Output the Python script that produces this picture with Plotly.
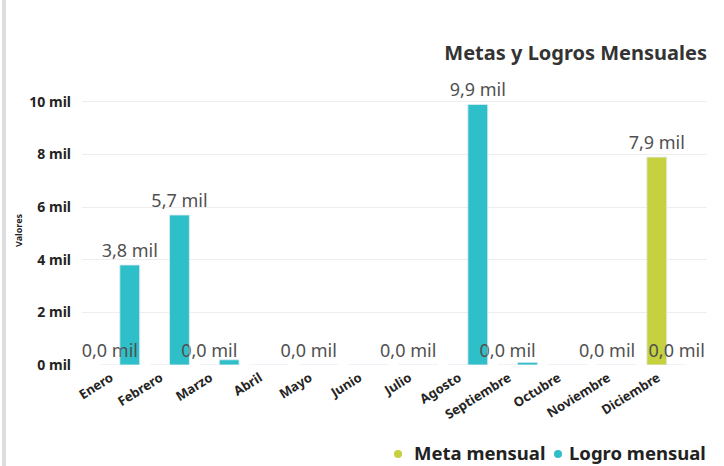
import plotly.graph_objects as go

meses = ["Enero", "Febrero", "Marzo", "Abril", "Mayo", "Junio", "Julio",
         "Agosto", "Septiembre", "Octubre", "Noviembre", "Diciembre"]
# valores en miles
meta_mensual = [0, 0, 0, 0, 0, 0, 0, 0, 0, 0, 0, 7.9]
logro_mensual = [3.8, 5.7, 0.2, 0, 0, 0, 0, 9.9, 0.1, 0, 0, 0]
# Power BI oculta las etiquetas que se solapan; éstas son las que sí se ven
meta_con_etiqueta = ["Enero", "Marzo", "Mayo", "Julio", "Septiembre",
                     "Noviembre", "Diciembre"]
logro_con_etiqueta = ["Enero", "Febrero", "Agosto", "Diciembre"]

VERDE = "#c5d13f"
TURQUESA = "#2fbfc9"
FONT = "Noto Sans"

# pixeles del área de trazado medidos en la referencia
W, H = 724, 466
X0, X1 = 82, 707
Y0, Y1 = 86, 365


def _etiquetas(valores, visibles):
    return [f"{v:.1f} mil".replace(".", ",") if m in visibles else ""
            for m, v in zip(meses, valores)]


def _px_y(y):
    return (Y1 - y) / (Y1 - Y0)


def _px_x(x):
    return (x - X0) / (X1 - X0)


series = [("Meta mensual", meta_mensual, meta_con_etiqueta, VERDE, "meta"),
          ("Logro mensual", logro_mensual, logro_con_etiqueta, TURQUESA, "logro")]

fig = go.Figure()
# primero las barras...
for nombre, valores, _, color, grupo in series:
    fig.add_bar(x=meses, y=valores, name=nombre, marker_color=color,
                offsetgroup=grupo, hoverinfo="x+y+name")
# ...y después las etiquetas, para que queden encima de cualquier barra vecina
for nombre, valores, visibles, _, grupo in series:
    fig.add_bar(x=meses, y=valores, name=nombre, offsetgroup=grupo,
                marker=dict(color="rgba(0,0,0,0)"), hoverinfo="skip",
                text=_etiquetas(valores, visibles), textposition="outside",
                cliponaxis=False, constraintext="none",
                textfont=dict(family=FONT, size=18, color="#505050"))

fig.update_layout(
    width=W, height=H,
    margin=dict(l=X0, r=W - X1, t=Y0, b=H - Y1),
    paper_bgcolor="white", plot_bgcolor="white",
    barmode="group", bargap=0.2, bargroupgap=0,
    showlegend=False,
    font=dict(family=FONT, color="#252423"),
    title=dict(text="<b>Metas y Logros Mensuales</b>", x=707 / W, xref="container",
               xanchor="right", y=1 - 53 / H, yref="container", yanchor="middle",
               font=dict(size=20, color="#333333")),
    xaxis=dict(range=[-0.76, 11.81], tickangle=-32, showgrid=False, showline=False,
               ticks="", tickvals=meses, ticktext=[f"<b>{m}</b>" for m in meses],
               ticklabelshift=-9, ticklabelstandoff=2,
               tickfont=dict(size=13, color="#252423"), automargin=False),
    yaxis=dict(range=[0, 10.6], tickvals=[0, 2, 4, 6, 8, 10],
               ticktext=["<b>0 mil</b>", "<b>2 mil</b>", "<b>4 mil</b>", "<b>6 mil</b>",
                         "<b>8 mil</b>", "<b>10 mil</b>"],
               showgrid=True, gridcolor="#eeeeee", gridwidth=1, zeroline=False,
               showline=False, ticks="", ticklabelstandoff=10,
               tickfont=dict(size=14, color="#252423"), automargin=False),
)

fig.add_annotation(text="<b>Valores</b>", textangle=-90, showarrow=False,
                   xref="paper", yref="paper", x=_px_x(18), xanchor="center",
                   y=_px_y(230), yanchor="middle",
                   font=dict(size=9, color="#252423"))

# leyenda al estilo Power BI: punto de color + nombre en negrita, abajo a la derecha
leyenda_x = [(398, 547), (558, 708)]  # (centro del punto, fin del texto) en px
for (nombre, _, _, color, _), (x_punto, x_fin) in zip(series, leyenda_x):
    fig.add_shape(type="circle", xref="paper", yref="paper",
                  xsizemode="pixel", ysizemode="pixel",
                  xanchor=_px_x(x_punto), yanchor=_px_y(454),
                  x0=-4, x1=4, y0=-4, y1=4,
                  fillcolor=color, line=dict(width=0))
    fig.add_annotation(text=f"<b>{nombre}</b>", showarrow=False,
                       xref="paper", yref="paper", x=_px_x(x_fin), xanchor="right",
                       y=_px_y(453), yanchor="middle",
                       font=dict(size=18.5, color="#222222"))

fig.add_shape(type="line", xref="paper", yref="paper",
              x0=_px_x(4), x1=_px_x(4), y0=_px_y(H), y1=_px_y(0),
              line=dict(color="#dddddd", width=4))

# sin el margen por defecto del <body>, el gráfico ocupa toda la ventana
fig.write_html("out.html", config={"displayModeBar": False},
               post_script="document.body.style.margin = '0';")
